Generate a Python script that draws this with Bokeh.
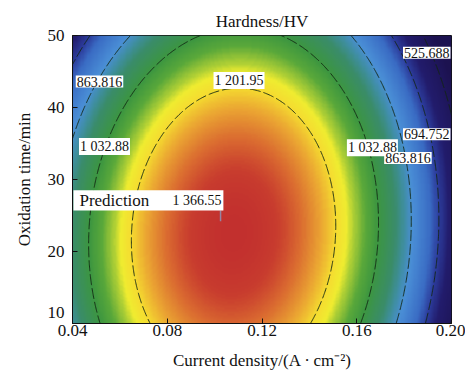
import numpy as np
from bokeh.plotting import figure
from bokeh.models import LinearColorMapper, Label, BoxAnnotation, FixedTicker
from bokeh.embed import file_html
from bokeh.resources import INLINE

# ---------------- data ----------------
x_limits = [0.04, 0.20]
y_limits = [10, 50]
x_ticks = [0.04, 0.08, 0.12, 0.16, 0.20]
x_tick_labels = ["0.04", "0.08", "0.12", "0.16", "0.20"]
y_ticks = [10, 20, 30, 40, 50]
y_tick_labels = ["10", "20", "30", "40", "50"]

# quadratic response surface (hardness, HV) estimated from the contours
peak_hardness = 1369.0
peak_current = 0.108
peak_time = 22.5
curv_current = 90000.0
curv_time = 0.41
tilt = 0.00011

contour_levels = [525.688, 694.752, 863.816, 1032.88, 1201.95]
level_label_text = ["863.816", "1 032.88", "1 201.95", "525.688", "694.752", "1 032.88", "863.816"]
level_label_x = [0.0514, 0.0535, 0.1103, 0.2, 0.2, 0.1666, 0.1816]
level_label_y = [43.6, 34.6, 43.75, 47.6, 36.3, 34.4, 33.0]
level_label_align = ["center", "center", "center", "right", "right", "center", "center"]

prediction_current = 0.1025
prediction_time = 24.2
prediction_value = "1 366.55"
prediction_box = dict(left=0.0404, right=0.1037, bottom=25.7, top=28.5)

# colour stops (value -> colour) of the map
stop_values = [450, 620, 690, 750, 850, 900, 950, 1035, 1090, 1140, 1165, 1200, 1250, 1300, 1340, 1370]
stop_colors = ["#1c1250", "#221c6c", "#2c3c9c", "#3a6cc4", "#4a8ed6", "#3f8ea0", "#3a8c6a",
               "#3c9640", "#5aa83a", "#b0d035", "#f0ec30", "#f5dc30", "#eaa232", "#da6a30",
               "#c83c2e", "#c2302e"]

FONT = "Liberation Serif"

# ---------------- build palette ----------------
def hex2rgb(h):
    return [int(h[i:i + 2], 16) for i in (1, 3, 5)]

rgb = np.array([hex2rgb(c) for c in stop_colors], dtype=float)
vals = np.linspace(stop_values[0], stop_values[-1], 256)
palette = []
for v in vals:
    r = np.interp(v, stop_values, rgb[:, 0])
    g = np.interp(v, stop_values, rgb[:, 1])
    b = np.interp(v, stop_values, rgb[:, 2])
    palette.append("#%02x%02x%02x" % (int(round(r)), int(round(g)), int(round(b))))
mapper = LinearColorMapper(palette=palette, low=stop_values[0], high=stop_values[-1])

# ---------------- surface grid ----------------
xs = np.linspace(x_limits[0], x_limits[1], 321)
ys = np.linspace(y_limits[0], y_limits[1], 241)
X, Y = np.meshgrid(xs, ys)
Z = (peak_hardness
     - curv_current * (X - peak_current - tilt * (Y - peak_time)) ** 2
     - curv_time * (Y - peak_time) ** 2)

# ---------------- figure ----------------
p = figure(width=465, height=374, x_range=tuple(x_limits), y_range=tuple(y_limits),
           output_backend="svg", toolbar_location=None,
           min_border_left=72, min_border_right=14, min_border_top=35, min_border_bottom=51,
           title="Hardness/HV")
p.background_fill_color = "white"
p.border_fill_color = "white"
p.outline_line_color = "#111111"
p.outline_line_width = 1
p.grid.visible = False

p.title.align = "center"
p.title.text_font = FONT
p.title.text_font_size = "17px"
p.title.text_font_style = "normal"
p.title.text_color = "#111111"
p.title.standoff = 10

p.image(image=[Z], x=x_limits[0], y=y_limits[0], dw=x_limits[1] - x_limits[0],
        dh=y_limits[1] - y_limits[0], color_mapper=mapper)

p.contour(X, Y, Z, contour_levels, line_color="#142814", line_alpha=0.9,
          line_width=1.0, line_dash="11 3")

# axes
for ax in (p.xaxis, p.yaxis):
    ax.axis_line_color = "#111111"
    ax.major_tick_line_color = "#111111"
    ax.major_tick_in = 5
    ax.major_tick_out = 0
    ax.minor_tick_line_color = None
    ax.major_label_text_font = FONT
    ax.major_label_text_font_size = "17px"
    ax.major_label_text_color = "#111111"
    ax.axis_label_text_font = FONT
    ax.axis_label_text_font_size = "17px"
    ax.axis_label_text_font_style = "normal"
    ax.axis_label_text_color = "#111111"

p.xaxis.ticker = FixedTicker(ticks=x_ticks)
p.xaxis.major_label_overrides = {t: l for t, l in zip(x_ticks, x_tick_labels)}
p.xaxis.major_label_standoff = 1
p.xaxis.axis_label = "Current density/(A\u2009\u00b7\u2009cm\u207b\u00b2)"
p.xaxis.axis_label_standoff = 12

p.yaxis.ticker = FixedTicker(ticks=y_ticks)
y_over = {t: l for t, l in zip(y_ticks, y_tick_labels)}
# bottom label lifted above the corner (second, empty line pushes it up)
y_over[y_ticks[0]] = y_tick_labels[0] + "\n\u00a0"
p.yaxis.major_label_overrides = y_over
p.yaxis.major_label_standoff = 8
p.yaxis.axis_label = "Oxidation time/min"
p.yaxis.axis_label_standoff = 11

# contour level labels
for t, lx, ly, al in zip(level_label_text, level_label_x, level_label_y, level_label_align):
    p.add_layout(Label(x=lx, y=ly, text=t, text_align=al, text_baseline="middle",
                       x_offset=-1 if al == "right" else 0,
                       text_font=FONT, text_font_size="14px", text_color="#111111",
                       background_fill_color="white", padding=1))

# prediction box
p.add_layout(BoxAnnotation(fill_color="white", fill_alpha=1.0, line_color=None,
                           **prediction_box))
p.segment(x0=[prediction_current], y0=[prediction_time], x1=[prediction_current],
          y1=[prediction_box["bottom"]], line_color="#8a9ac0", line_width=1.5, line_alpha=0.8)
p.add_layout(Label(x=prediction_box["left"], y=(prediction_box["bottom"] + prediction_box["top"]) / 2,
                   x_offset=6, text="Prediction", text_align="left", text_baseline="middle",
                   text_font=FONT, text_font_size="17px", text_color="#111111"))
p.add_layout(Label(x=prediction_box["right"], y=(prediction_box["bottom"] + prediction_box["top"]) / 2,
                   x_offset=-2, text=prediction_value, text_align="right", text_baseline="middle",
                   text_font=FONT, text_font_size="14px", text_color="#111111"))

open("out.html", "w").write(file_html(p, INLINE))
